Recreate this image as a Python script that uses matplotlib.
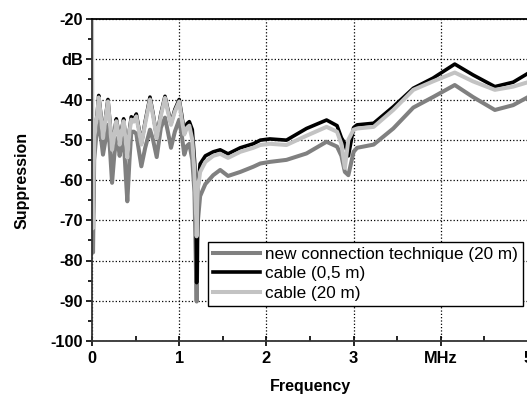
import matplotlib
matplotlib.use("Agg")
import matplotlib.pyplot as plt
from matplotlib.ticker import MultipleLocator

#==Daten aus der Abbildung (Frequenz in MHz, Dämpfung in dB)==#
freq = [0.0, 0.004, 0.012, 0.025, 0.045, 0.06, 0.077, 0.10, 0.126, 0.155,
        0.183, 0.205, 0.23, 0.255, 0.279, 0.30, 0.317, 0.34, 0.363, 0.385,
        0.405, 0.43, 0.451, 0.48, 0.508, 0.54, 0.566, 0.61, 0.665, 0.70,
        0.742, 0.79, 0.837, 0.87, 0.906, 0.95, 1.0, 1.03, 1.058, 1.09,
        1.116, 1.15, 1.175, 1.19, 1.20, 1.215, 1.24, 1.30, 1.39, 1.47,
        1.56, 1.70, 1.85, 1.93, 2.04, 2.23, 2.46, 2.69, 2.81, 2.86,
        2.90, 2.94, 3.0, 3.04, 3.23, 3.455, 3.685, 3.91, 4.16, 4.37,
        4.62, 4.83, 5.0]

new_conn = [-50, -65, -78, -55, -50, -48, -45.5, -49, -53.7, -50,
            -46.3, -52, -60.7, -54, -49.6, -51, -54, -51, -49.6, -58,
            -65.3, -55, -48, -48, -48.5, -53, -56.6, -52, -47.5, -50,
            -54.3, -47, -44.5, -48, -52, -48, -45, -49, -53.7, -51.5,
            -51, -55, -63, -80, -90.2, -70, -64, -61, -58.8, -57.5,
            -59, -58, -56.7, -55.9, -55.5, -55, -53.4, -50.5, -51.7, -54,
            -58, -58.8, -53, -52, -51.2, -47.2, -42, -39.4, -36.4, -39.4,
            -42.6, -41.4, -39.4]

cable_05 = [-48, -55, -72, -50, -46, -43.5, -39, -43.5, -49.3, -44.5,
            -40, -45.5, -52, -48.5, -44.8, -47.5, -51, -47.5, -44.8, -50,
            -54.5, -47.5, -44.3, -45, -43.6, -47.5, -51, -45.5, -39.4, -43.5,
            -49.3, -43.5, -39.2, -42.5, -46, -42.5, -40, -44, -48.2, -46,
            -45.5, -47.5, -55, -62, -85.5, -62, -56, -54, -53, -52.5,
            -53.5, -52, -51, -50.1, -49.8, -50.1, -47.2, -45.1, -46.5, -49.5,
            -51, -54, -47, -46.3, -45.9, -41.8, -37.2, -34.7, -31.2, -33.9,
            -36.8, -35.7, -33.5]

cable_20 = [-20, -45, -72, -50, -46, -44, -39.5, -44, -49.6, -45,
            -40.5, -46, -52.5, -49, -45.4, -48, -51.2, -48, -45.4, -50,
            -54.5, -48, -45, -45.5, -44.2, -48, -51.2, -46, -40, -44,
            -49.6, -44, -39.6, -43, -46.3, -43, -40.5, -45, -48.7, -47,
            -46.5, -50, -58, -66, -74, -62, -58, -55.5, -54, -53.5,
            -54.5, -53, -52, -51.3, -51, -51.3, -49, -46.8, -48, -51,
            -57, -50, -47.5, -47.2, -46.8, -42.6, -37.6, -35.5, -33.3, -35.5,
            -37.6, -36.8, -35.7]

labels = ["new connection technique (20 m)", "cable (0,5 m)", "cable (20 m)"]
yticks = [-100, -90, -80, -70, -60, -50, -40, -30, -20]
ytick_labels = ["-100", "-90", "-80", "-70", "-60", "-50", "-40", "dB", "-20"]
xticks = [0, 1, 2, 3, 4, 5]
xtick_labels = ["0", "1", "2", "3", "MHz", "5"]

plt.rcParams['font.family'] = ['Liberation Sans', 'DejaVu Sans']

#==Grafik==#
fig = plt.figure(figsize=(5.27, 3.96), dpi=100)
ax = fig.add_axes([92 / 527, 55 / 396, 436 / 527, 322 / 396])

ax.plot(freq, new_conn, color='#808080', lw=2.9, label=labels[0])
ax.plot(freq, cable_05, color='black', lw=2.6, label=labels[1])
ax.plot(freq, cable_20, color='#c3c3c3', lw=2.9, label=labels[2])

ax.set_xlim(0, 5)
ax.set_ylim(-100, -20)
ax.set_xticks(xticks)
ax.set_xticklabels(xtick_labels, fontweight='bold', fontsize=11.8)
ax.set_yticks(yticks)
ax.set_yticklabels(ytick_labels, fontweight='bold', fontsize=11.8)
ax.xaxis.set_minor_locator(MultipleLocator(0.5))
ax.yaxis.set_minor_locator(MultipleLocator(5))
ax.tick_params(axis='x', which='major', direction='inout', length=7, width=1.2, pad=4)
ax.tick_params(axis='x', which='minor', direction='in', length=3.5, width=1.2)
ax.tick_params(axis='y', which='major', direction='out', length=4.5, width=1.2, pad=2)
ax.tick_params(axis='y', which='minor', direction='out', length=3, width=1.2)

ax.grid(True, which='major', color='black', linestyle=':', linewidth=0.9)
for s in ['left', 'bottom']:
    ax.spines[s].set_linewidth(1.3)
    ax.spines[s].set_color('#333333')
ax.spines['top'].set_linewidth(1.3)

ax.set_xlabel("Frequency", fontweight='bold', fontsize=11.5, labelpad=9)
ax.set_ylabel("Suppression", fontweight='bold', fontsize=11.5, labelpad=15)

leg = ax.legend(loc='upper left', bbox_to_anchor=(0.266, 0.307), borderaxespad=0,
                fancybox=False, edgecolor='black', framealpha=1, fontsize=12.3,
                handlelength=2.75, handletextpad=0.3, borderpad=0.28,
                labelspacing=0.26)
leg.get_frame().set_linewidth(1.0)

fig.savefig("out.png", dpi=100)
